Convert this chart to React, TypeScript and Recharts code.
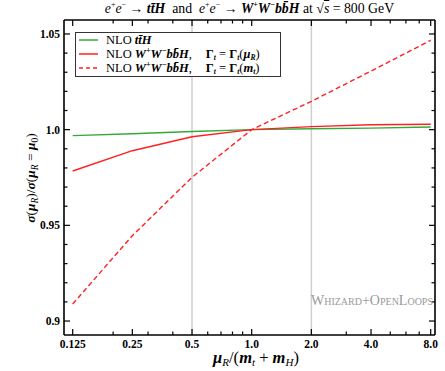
// @ts-nocheck
import { LineChart, Line, XAxis, YAxis, ReferenceLine, Legend } from "recharts";

const scaleRatio = [0.125, 0.25, 0.5, 1.0, 2.0, 4.0, 8.0];
const nloTtH = [0.9969, 0.9979, 0.999, 1.0, 1.0005, 1.0008, 1.0014];
const nloWWbbHRunning = [0.9784, 0.989, 0.9963, 1.0, 1.0016, 1.0026, 1.0028];
const nloWWbbHFixed = [0.9089, 0.9446, 0.9751, 1.0, 1.0148, 1.0306, 1.0467];

const xMajorTicks = [0.125, 0.25, 0.5, 1.0, 2.0, 4.0, 8.0];
const xMajorLabels = ["0.125", "0.25", "0.5", "1.0", "2.0", "4.0", "8.0"];
const xMinorTicks = [0.2, 0.3, 0.4, 0.6, 0.7, 0.8, 0.9, 3, 5, 6, 7];
const yMajorTicks = [0.9, 0.95, 1.0, 1.05];
const yMajorLabels = ["0.9", "0.95", "1.0", "1.05"];
const yMinorTicks = [0.91, 0.92, 0.93, 0.94, 0.96, 0.97, 0.98, 0.99, 1.01, 1.02, 1.03, 1.04];
const markerLines = [0.5, 2.0];

const xDomain = [0.113, 8.41];
const yDomain = [0.8927, 1.0573];

const GREEN = "#35a83a";
const RED = "#ff2020";
const SERIF = "'Liberation Serif', 'DejaVu Serif', serif";

const data = scaleRatio.map((x, i) => ({
  x,
  ttH: nloTtH[i],
  running: nloWWbbHRunning[i],
  fixed: nloWWbbHFixed[i],
}));

const xTicks = [...xMajorTicks, ...xMinorTicks].sort((a, b) => a - b);
const yTicks = [...yMajorTicks, ...yMinorTicks].sort((a, b) => a - b);

function BottomTick({ x, y, payload }) {
  const i = xMajorTicks.indexOf(payload.value);
  return (
    <g>
      <line x1={x} y1={y} x2={x} y2={y - (i >= 0 ? 6 : 3.5)} stroke="#000" strokeWidth={1.2} />
      {i >= 0 && (
        <text x={x} y={y + 12.5} textAnchor="middle" fontFamily={SERIF} fontWeight="bold" fontSize={11.5} fill="#000">
          {xMajorLabels[i]}
        </text>
      )}
    </g>
  );
}

function TopTick({ x, y, payload }) {
  const major = xMajorTicks.includes(payload.value);
  return <line x1={x} y1={y} x2={x} y2={y + (major ? 6 : 3.5)} stroke="#000" strokeWidth={1.2} />;
}

function LeftTick({ x, y, payload }) {
  const i = yMajorTicks.indexOf(payload.value);
  return (
    <g>
      <line x1={x} y1={y} x2={x + (i >= 0 ? 6 : 3.5)} y2={y} stroke="#000" strokeWidth={1.2} />
      {i >= 0 && (
        <text x={x - 4} y={y + 4} textAnchor="end" fontFamily={SERIF} fontWeight="bold" fontSize={11.5} fill="#000">
          {yMajorLabels[i]}
        </text>
      )}
    </g>
  );
}

function RightTick({ x, y, payload }) {
  const major = yMajorTicks.includes(payload.value);
  return <line x1={x} y1={y} x2={x - (major ? 6 : 3.5)} y2={y} stroke="#000" strokeWidth={1.2} />;
}

const bi = { fontWeight: "bold", fontStyle: "italic" };
const sup = { fontSize: 8, lineHeight: 0 };
const sub = { fontSize: 7.5, lineHeight: 0, verticalAlign: "-1.5px" };

function WWbbH() {
  return (
    <span style={bi}>
      W<sup style={sup}>+</sup>W<sup style={sup}>−</sup>bb̄H
    </span>
  );
}

function LegendBox() {
  const gamma = (
    <span style={{ fontWeight: "bold" }}>
      Γ<sub style={{ ...sub, fontStyle: "italic" }}>t</sub>
    </span>
  );
  const rows = [
    { color: GREEN, dash: undefined, label: <><span>NLO </span><span style={bi}>tt̄H</span></> },
    {
      color: RED,
      dash: undefined,
      label: (
        <>
          <span>NLO </span>
          <WWbbH />,<span style={{ marginLeft: 14 }}>{gamma}</span> = {gamma}(
          <span style={bi}>μ<sub style={sub}>R</sub></span>)
        </>
      ),
    },
    {
      color: RED,
      dash: "4 3",
      label: (
        <>
          <span>NLO </span>
          <WWbbH />,<span style={{ marginLeft: 14 }}>{gamma}</span> = {gamma}(
          <span style={bi}>m<sub style={sub}>t</sub></span>)
        </>
      ),
    },
  ];
  return (
    <div
      style={{
        border: "1.2px solid #333",
        background: "#fff",
        padding: "0px 4px 1px 3px",
        fontFamily: SERIF,
        fontSize: 12.5,
        width: 197,
      }}
    >
      {rows.map((r, i) => (
        <div key={i} style={{ display: "flex", alignItems: "center", whiteSpace: "nowrap", height: 14, lineHeight: "14px" }}>
          <svg width={27} height={10} style={{ flex: "none" }}>
            <line x1={0} y1={5} x2={19} y2={5} stroke={r.color} strokeWidth={1.5} strokeDasharray={r.dash} />
          </svg>
          <span>{r.label}</span>
        </div>
      ))}
    </div>
  );
}

export default function App() {
  return (
    <div style={{ position: "absolute", left: 0, top: 0, width: 445, height: 371, background: "#fff" }}>
      <div
        style={{
          position: "absolute",
          top: 1,
          left: 44,
          width: 411,
          textAlign: "center",
          fontFamily: SERIF,
          fontSize: 13.8,
          whiteSpace: "nowrap",
        }}
      >
        <i>e</i><sup style={sup}>+</sup><i>e</i><sup style={sup}>−</sup> → <span style={bi}>tt̄H</span>
        {"\u00a0\u00a0and\u00a0\u00a0"}
        <i>e</i><sup style={sup}>+</sup><i>e</i><sup style={sup}>−</sup> → <WWbbH /> at √
        <span style={{ textDecoration: "overline" }}><i>s</i></span> = 800 GeV
      </div>
      <LineChart width={445} height={371} data={data} margin={{ top: 0, right: 0, bottom: 0, left: 0 }}>
        <XAxis
          dataKey="x"
          type="number"
          scale="log"
          domain={xDomain}
          allowDataOverflow
          ticks={xTicks}
          interval={0}
          height={36}
          tickSize={0}
          tickMargin={0}
          tick={BottomTick}
          axisLine={{ stroke: "#000", strokeWidth: 1.6 }}
          label={{
            content: () => (
              <text x={256} y={363} textAnchor="middle" fontFamily={SERIF} fontSize={16.5} fill="#000">
                <tspan {...bi}>μ</tspan>
                <tspan fontSize={11} fontStyle="italic" dy={3}>R</tspan>
                <tspan dy={-3}>/(</tspan>
                <tspan {...bi}>m</tspan>
                <tspan fontSize={11} fontStyle="italic" dy={3}>t</tspan>
                <tspan dy={-3}> + </tspan>
                <tspan {...bi}>m</tspan>
                <tspan fontSize={11} fontStyle="italic" dy={3}>H</tspan>
                <tspan dy={-3}>)</tspan>
              </text>
            ),
          }}
        />
        <XAxis
          xAxisId="top"
          orientation="top"
          dataKey="x"
          type="number"
          scale="log"
          domain={xDomain}
          allowDataOverflow
          ticks={xTicks}
          interval={0}
          height={20}
          tickSize={0}
          tickMargin={0}
          tick={TopTick}
          axisLine={{ stroke: "#000", strokeWidth: 1.6 }}
        />
        <YAxis
          type="number"
          domain={yDomain}
          allowDataOverflow
          ticks={yTicks}
          interval={0}
          width={64}
          tickSize={0}
          tickMargin={0}
          tick={LeftTick}
          axisLine={{ stroke: "#000", strokeWidth: 1.6 }}
          label={{
            content: () => (
              <text
                x={0}
                y={0}
                transform="translate(35,178) rotate(-90)"
                textAnchor="middle"
                fontFamily={SERIF}
                fontSize={13.5}
                fill="#000"
              >
                <tspan {...bi}>σ</tspan>
                <tspan>(</tspan>
                <tspan {...bi}>μ</tspan>
                <tspan fontSize={9.5} fontStyle="italic" dy={3}>R</tspan>
                <tspan dy={-3}>)/</tspan>
                <tspan {...bi}>σ</tspan>
                <tspan>(</tspan>
                <tspan {...bi}>μ</tspan>
                <tspan fontSize={9.5} fontStyle="italic" dy={3}>R</tspan>
                <tspan dy={-3}> = </tspan>
                <tspan {...bi}>μ</tspan>
                <tspan fontSize={9.5} dy={3}>0</tspan>
                <tspan dy={-3}>)</tspan>
              </text>
            ),
          }}
        />
        <YAxis
          yAxisId="right"
          orientation="right"
          type="number"
          domain={yDomain}
          allowDataOverflow
          ticks={yTicks}
          interval={0}
          width={10}
          tickSize={0}
          tickMargin={0}
          tick={RightTick}
          axisLine={{ stroke: "#000", strokeWidth: 1.6 }}
        />
        {markerLines.map((v) => (
          <ReferenceLine key={v} x={v} stroke="#cfcfcf" strokeWidth={1.5} />
        ))}
        <Line dataKey="ttH" stroke={GREEN} strokeWidth={1.4} dot={false} isAnimationActive={false} />
        <Line dataKey="running" stroke={RED} strokeWidth={1.4} dot={false} isAnimationActive={false} />
        <Line
          dataKey="fixed"
          stroke={RED}
          strokeWidth={1.4}
          strokeDasharray="5 3"
          dot={false}
          isAnimationActive={false}
        />
        <Legend
          layout="horizontal"
          verticalAlign="middle"
          align="center"
          wrapperStyle={{ left: 75, top: 32, width: "auto", height: "auto" }}
          content={() => <LegendBox />}
        />
      </LineChart>
      <div
        style={{
          position: "absolute",
          right: 12,
          top: 293,
          fontFamily: SERIF,
          fontSize: 14,
          fontVariant: "small-caps",
          color: "#999",
          whiteSpace: "nowrap",
        }}
      >
        Whizard+OpenLoops
      </div>
    </div>
  );
}
